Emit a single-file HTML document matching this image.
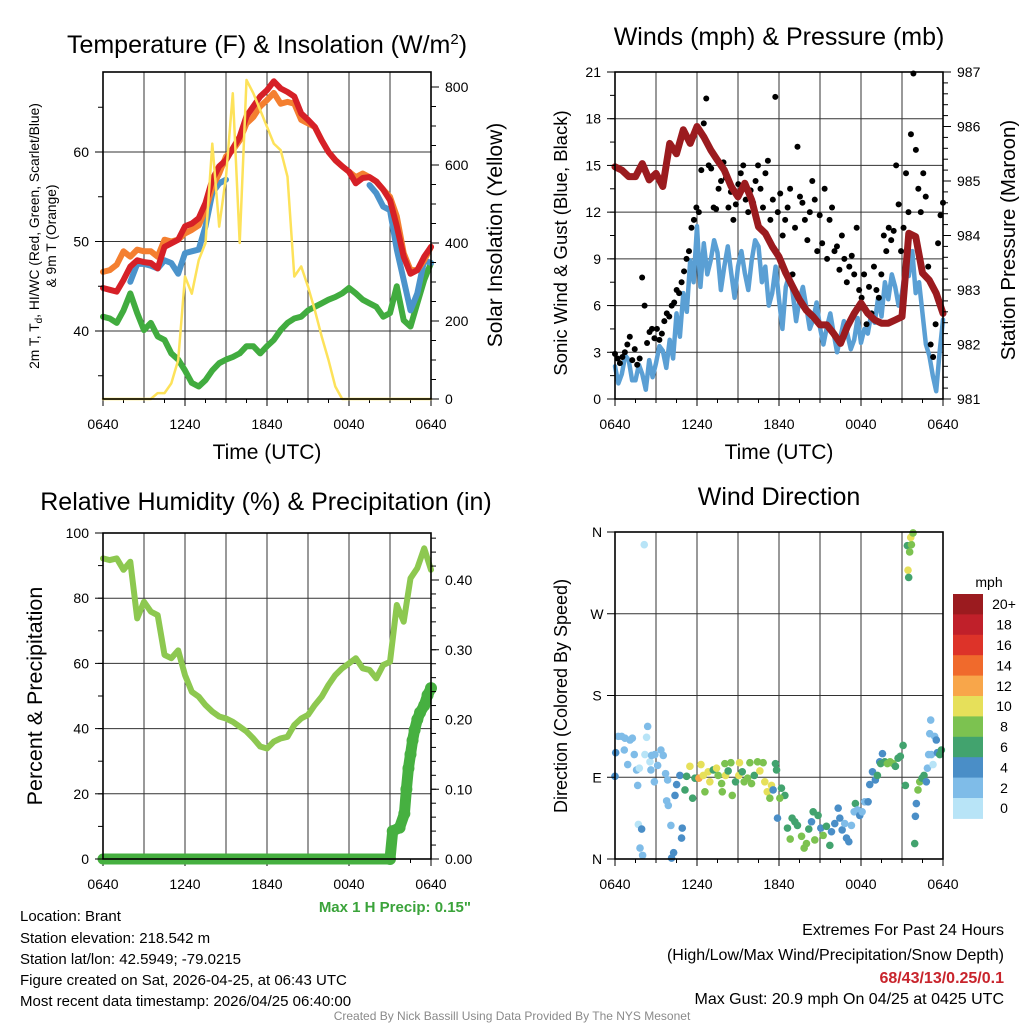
<!DOCTYPE html>
<html><head><meta charset="utf-8">
<style>
html,body{margin:0;padding:0;background:#fff;}
svg{display:block;font-family:"Liberation Sans",Arial,sans-serif;}
</style></head>
<body>
<svg id="chart" width="1024" height="1024" viewBox="0 0 1024 1024" xmlns="http://www.w3.org/2000/svg">
<rect x="0" y="0" width="1024" height="1024" fill="#fff"/>
<g id="p1"></g>
<g id="p2"></g>
<g id="p3"></g>
<g id="p4"></g>

<text x="267" y="53" font-size="25" text-anchor="middle">Temperature (F) &amp; Insolation (W/m<tspan dy="-9" font-size="15">2</tspan><tspan dy="9">)</tspan></text>
<text x="779" y="45" font-size="25" text-anchor="middle">Winds (mph) &amp; Pressure (mb)</text>
<text x="266" y="510" font-size="25" text-anchor="middle">Relative Humidity (%) &amp; Precipitation (in)</text>
<text x="779" y="505" font-size="25" text-anchor="middle">Wind Direction</text>

<text x="267" y="459" font-size="21" text-anchor="middle">Time (UTC)</text>
<text x="779" y="459" font-size="21" text-anchor="middle">Time (UTC)</text>

<text transform="translate(39,236) rotate(-90)" font-size="13.8" text-anchor="middle">2m T, T<tspan dy="3" font-size="10">d</tspan><tspan dy="-3">, HI/WC (Red, Green, Scarlet/Blue)</tspan></text>
<text transform="translate(56,236) rotate(-90)" font-size="13.8" text-anchor="middle">&amp; 9m T (Orange)</text>
<text transform="translate(502,235) rotate(-90)" font-size="21" text-anchor="middle">Solar Insolation (Yellow)</text>
<text transform="translate(567,243) rotate(-90)" font-size="18.5" text-anchor="middle">Sonic Wind &amp; Gust (Blue, Black)</text>
<text transform="translate(1015,240) rotate(-90)" font-size="20.5" text-anchor="middle">Station Pressure (Maroon)</text>
<text transform="translate(42,696) rotate(-90)" font-size="21.5" text-anchor="middle">Percent &amp; Precipitation</text>
<text transform="translate(567,696) rotate(-90)" font-size="18" text-anchor="middle">Direction (Colored By Speed)</text>

<g id="cbar"></g>
<text x="989" y="587" font-size="14" text-anchor="middle">mph</text>

<text x="471" y="912" font-size="15" font-weight="bold" fill="#3aa33a" text-anchor="end">Max 1 H Precip: 0.15"</text>
<g font-size="15">
<text x="20" y="921">Location: Brant</text>
<text x="20" y="943">Station elevation: 218.542 m</text>
<text x="20" y="964">Station lat/lon: 42.5949; -79.0215</text>
<text x="20" y="985">Figure created on Sat, 2026-04-25, at 06:43 UTC</text>
<text x="20" y="1006">Most recent data timestamp: 2026/04/25 06:40:00</text>
</g>
<g font-size="16" text-anchor="end">
<text x="1004" y="935">Extremes For Past 24 Hours</text>
<text x="1004" y="960">(High/Low/Max Wind/Precipitation/Snow Depth)</text>
<text x="1004" y="983" font-weight="bold" fill="#c8242c">68/43/13/0.25/0.1</text>
<text x="1004" y="1004">Max Gust: 20.9 mph On 04/25 at 0425 UTC</text>
</g>
<text x="512" y="1020" font-size="12" fill="#8a8a8a" text-anchor="middle">Created By Nick Bassill Using Data Provided By The NYS Mesonet</text>
</svg>
<script>
// ---------- DATA ----------
const timeTicks = ["0640","1240","1840","0040","0640"];
// Panel 1 (half-hourly, 49 points over 24 h)
const temp2m = [44.8,44.6,44.4,45.7,47.2,47.9,47.7,47.6,47.0,49.4,49.8,50.2,51.7,52.0,52.6,54.3,56.9,58.4,59.1,60.4,61.7,64.0,65.1,66.2,66.9,67.9,67.1,66.7,66.2,64.3,63.6,62.8,61.3,60.0,59.1,58.4,57.8,56.5,57.1,57.2,56.7,55.8,54.6,51.7,48.3,46.4,46.8,48.3,49.4];
const temp9m = [46.6,46.8,47.4,48.9,48.3,49.1,48.9,48.9,48.3,50.2,50.0,50.2,50.9,51.3,51.8,53.5,56.1,57.6,59.5,60.2,61.3,63.2,63.9,65.1,65.8,66.6,65.4,65.6,65.4,63.6,63.2,62.8,61.3,60.0,59.1,58.4,57.8,57.2,57.6,57.2,56.7,55.8,55.0,52.8,48.7,46.8,46.8,47.9,49.4];
const heatWind = [null,null,null,null,45.5,47.5,47.5,47.3,47.0,47.9,47.6,46.4,48.7,48.9,49.1,51.7,55.4,56.5,56.9,null,null,null,null,null,null,null,null,null,null,null,null,null,null,null,null,null,null,null,null,56.3,55.4,53.9,53.5,49.1,45.7,42.3,44.2,47.9,47.6];
const dewpoint = [41.6,41.4,40.9,42.3,44.2,42.0,40.1,40.9,39.4,39.0,37.5,36.8,35.6,34.2,33.8,34.5,35.6,36.4,36.8,37.1,37.5,38.3,38.3,37.5,38.3,39.0,40.1,40.9,41.4,41.6,42.3,42.7,43.1,43.5,43.8,44.2,44.8,44.2,43.5,43.1,42.7,41.6,42.0,45.0,41.2,40.5,43.1,45.7,47.6];
const insolation = [0,0,0,0,0,0,0,0,15,15,40,100,314,270,356,400,655,442,570,784,400,818,784,741,698,655,638,570,314,340,288,228,160,100,32,0,0,0,0,0,0,0,0,0,0,0,0,0,0];
const tempTicks = [40,50,60];
const insolTicks = [0,200,400,600,800];
// Panel 2
const windSpeed = [2.1,1.0,1.6,2.8,2.5,1.2,1.2,2.2,1.6,0.6,2.5,1.4,2.3,3.4,3.1,2.0,3.8,2.6,5.5,4.0,6.8,5.6,8.9,7.5,11.1,7.2,10.0,8.0,8.9,10.2,9.4,7.0,8.5,9.8,8.1,6.5,8.5,9.5,8.1,7.0,8.9,10.2,9.8,7.5,8.5,6.0,6.8,8.5,6.4,4.5,7.2,8.0,6.8,5.0,6.4,7.2,5.9,4.5,5.1,6.2,4.6,3.5,4.6,5.5,4.2,3.0,4.0,5.0,4.2,3.2,3.8,5.2,3.6,4.5,4.2,5.5,4.9,6.5,5.3,7.5,6.4,8.0,7.2,6.0,6.8,8.5,7.9,9.5,6.8,7.5,5.5,3.5,2.8,1.5,0.5,3.0,5.1];
const windGust = [2.9,2.6,2.3,2.7,3.0,3.5,4.0,2.5,3.2,2.2,2.6,7.8,6.0,3.6,4.3,4.5,3.9,4.5,3.8,4.2,5.0,5.5,5.3,6.0,6.2,7.0,6.8,7.5,8.2,9.0,9.5,11.0,11.5,12.3,12.0,14.7,17.7,19.3,15.0,14.8,12.3,12.2,13.5,14.0,15.2,14.2,12.3,13.3,11.5,12.5,13.8,14.5,15.0,12.8,12.0,13.4,12.6,14.0,15.0,13.5,12.3,14.5,15.3,11.5,12.8,19.4,12.0,13.2,10.5,11.5,12.3,13.5,8.0,11.0,16.2,13.0,12.6,11.5,10.2,12.0,14.0,12.8,9.5,11.8,10.0,13.5,9.0,11.5,12.3,9.5,9.8,8.3,10.5,9.0,7.5,8.5,9.2,8.0,11.0,7.0,6.5,8.0,4.8,7.2,5.5,8.5,7.0,6.5,8.0,10.5,9.5,11.0,10.2,10.8,15.0,12.5,9.5,11.0,14.5,12.0,17.0,20.9,16.0,13.5,12.0,14.5,13.0,8.5,3.5,2.7,4.8,10.0,11.8,12.6];
const pressure = [985.26,985.2,985.08,985.08,985.32,985.02,985.14,984.9,985.69,985.5,985.94,985.69,986.0,985.81,985.57,985.38,985.2,984.9,984.71,984.96,984.65,984.16,984.04,983.8,983.61,983.31,983.06,982.82,982.63,982.51,982.36,982.36,982.2,982.02,982.33,982.57,982.76,982.57,982.45,982.39,982.39,982.45,982.51,984.04,983.98,983.31,983.18,982.94,982.57];
const windTicks = [0,3,6,9,12,15,18,21];
const presTicks = [981,982,983,984,985,986,987];
// Panel 3
const humidity = [92.2,91.7,92.2,88.7,91.2,73.8,78.9,75.9,74.8,62.6,61.6,64.0,56.4,51.3,49.8,47.2,45.2,43.7,43.1,42.1,40.6,39.1,37.0,34.5,33.9,36.0,37.0,37.5,41.1,43.1,44.2,47.2,49.8,53.4,56.4,58.5,60.0,61.6,58.5,58.0,55.4,59.5,60.5,77.9,72.8,86.1,89.2,95.3,88.7];
const precipHours = [0,21.0,21.2,21.7,22.05,22.2,22.35,22.5,22.65,22.8,23.0,23.2,23.5,23.75,24];
const precipVals = [0,0,0.04,0.045,0.065,0.10,0.13,0.15,0.17,0.185,0.20,0.21,0.22,0.235,0.245];
const rhTicks = [0,20,40,60,80,100];
const precipTicks = [0,0.1,0.2,0.3,0.4];
// Panel 4
const dirHours = [2.14,0.0,0.05,0.24,0.49,0.73,1.10,1.27,0.68,0.93,1.41,1.58,1.66,1.71,1.95,1.83,2.02,1.78,2.19,2.31,2.39,2.56,2.68,2.92,2.63,2.88,3.12,3.36,3.53,3.70,3.85,3.78,3.90,4.09,4.14,4.29,4.39,4.51,4.75,4.92,4.87,5.24,5.12,5.48,5.68,5.85,6.14,6.29,6.46,6.58,6.82,6.94,7.19,7.43,7.55,7.80,7.85,8.04,8.09,8.28,8.48,8.58,8.82,9.06,9.11,9.31,9.45,9.70,9.87,9.99,10.19,10.43,10.60,10.84,10.96,11.14,11.33,11.45,11.57,11.74,11.82,11.89,12.18,12.43,12.06,12.62,12.82,12.96,13.16,13.35,13.65,13.84,14.01,14.18,14.38,14.50,14.62,14.86,15.06,15.23,15.47,15.72,15.84,16.08,16.33,16.45,16.62,16.81,16.94,17.11,17.30,17.50,17.59,17.74,17.91,18.08,18.27,18.52,18.64,18.84,19.05,19.20,19.37,19.57,19.44,19.74,19.93,20.13,20.35,20.52,20.71,20.88,21.08,21.25,21.44,21.49,21.39,21.56,21.69,21.64,21.81,21.93,21.98,22.05,22.17,22.30,22.47,22.61,22.78,22.86,22.95,23.15,23.27,23.03,23.10,23.39,23.51,23.59,23.76,23.88];
const dirDeg = [346,91,117,135,135,133,131,133,120,104,115,98,81,38,33,12,4,100,115,134,146,107,114,115,98,85,103,120,114,94,87,64,59,37,1,7,70,82,92,34,23,91,76,102,67,89,89,104,92,74,96,85,98,100,92,83,74,105,92,97,106,70,85,92,106,96,85,89,106,83,92,107,97,106,85,74,67,81,76,105,98,45,78,70,67,34,22,45,41,37,25,12,17,33,41,52,21,48,34,26,36,15,30,39,56,45,32,39,23,19,37,52,61,54,48,52,63,63,82,96,87,92,107,116,105,107,105,107,105,102,111,113,125,81,318,310,345,338,346,354,359,17,47,61,76,85,89,92,85,100,115,115,104,138,153,135,131,117,115,120];
const dirSpeed = [0,4,4,2,2,2,2,2,2,2,2,2,2,0,4,2,2,0,0,0,2,0,2,2,2,2,2,2,2,2,2,2,2,2,4,4,4,4,4,4,4,6,6,10,6,6,12,10,10,8,10,10,6,10,8,8,8,8,10,6,8,8,6,10,10,6,8,8,8,8,6,8,10,8,10,10,8,10,4,6,6,4,6,6,8,6,8,6,6,6,8,8,8,6,4,6,8,6,4,8,6,6,4,4,4,4,4,2,4,4,2,2,6,2,4,2,2,4,4,4,4,6,4,4,6,6,8,8,8,6,6,6,6,6,10,6,6,8,8,10,8,6,4,4,8,8,6,6,4,2,2,2,0,2,2,2,4,4,6,6];
const dirTicks = ["N","E","S","W","N"];
const speedBins = ["0","2","4","6","8","10","12","14","16","18","20+"];
const speedColors = ["#b8e4f7","#7fbce8","#4a8ec7","#42a36e","#7cc250","#e6e05a","#f8a64a","#f06a2c","#dd3329","#c0202a","#9b1b1f"];

// ---------- HELPERS ----------
const NS = "http://www.w3.org/2000/svg";
function mk(parent, tag, attrs){const e=document.createElementNS(NS,tag);for(const k in attrs)e.setAttribute(k,attrs[k]);parent.appendChild(e);return e;}
function lin(d0,d1,r0,r1){return v=>r0+(v-d0)/(d1-d0)*(r1-r0);}
function idxHour(i,n){return i*24/(n-1);}

function frame(g,L,R,T,B){
  const x=lin(0,24,L,R);
  for(let h=3;h<24;h+=3){
    const gl=mk(g,"line",{x1:x(h),x2:x(h),y1:T,y2:B,stroke:"#333","stroke-width":1});
    
    
  }
  for(let h=0;h<=24;h+=1.5){
    const len = (h%6===0)?7:4;
    const tk=mk(g,"line",{x1:x(h),x2:x(h),y1:B,y2:B+len,stroke:"#000","stroke-width":1});
    
    
  }
  timeTicks.forEach((lab,i)=>{
    const t=mk(g,"text",{x:x(i*6),y:B+30,"font-size":14,"text-anchor":"middle"});
    t.textContent=lab;
    
    
  });
  return x;
}
function hgrid(g,L,R,y){
  const l=mk(g,"line",{x1:L,x2:R,y1:y,y2:y,stroke:"#333","stroke-width":1});
  
  
}
function border(g,L,R,T,B){
  const r=mk(g,"rect",{x:L,y:T,width:R-L,height:B-T,fill:"none",stroke:"#000","stroke-width":1.6});
  
  
}
function yTicks(g,side,X,vals,scale,fmt,minorStep,minorRange){
  const dir=side==="left"?-1:1;
  if(minorStep){
    for(let v=minorRange[0];v<=minorRange[1]+1e-9;v+=minorStep){
      const m=mk(g,"line",{x1:X,x2:X+dir*5,y1:scale(v),y2:scale(v),stroke:"#000","stroke-width":1});
      
      
    }
  }
  vals.forEach(v=>{
    const y=scale(v);
    const tk=mk(g,"line",{x1:X,x2:X+dir*8,y1:y,y2:y,stroke:"#000","stroke-width":1});
    
    
    const t=mk(g,"text",{x:X+dir*14,y:y+5,"font-size":14,"text-anchor":side==="left"?"end":"start"});
    t.textContent=fmt(v);
    
    
  });
}
function pathFrom(vals,xf,yf,hoursArr){
  let d="",pen=false;
  vals.forEach((v,i)=>{
    if(v===null){pen=false;return;}
    const h=hoursArr?hoursArr[i]:idxHour(i,vals.length);
    d+=(pen?"L":"M")+xf(h).toFixed(1)+","+yf(v).toFixed(1);
    pen=true;
  });
  return d;
}
function line(g,d,color,w,name){
  const p=mk(g,"path",{d:d,fill:"none",stroke:color,"stroke-width":w,"stroke-linejoin":"round","stroke-linecap":"round"});
  
  
  return p;
}

// ---------- PANEL 1 ----------
(function(){
  const g=document.getElementById("p1");
  const L=103,R=431,T=72,B=399;
  const y=lin(40,60,331,152), yi=lin(0,800,399,87);
  const x=frame(g,L,R,T,B);
  tempTicks.forEach(v=>hgrid(g,L,R,y(v)));
  line(g,pathFrom(dewpoint,x,y),"#41ac3f",6,"dewpoint-line");
  line(g,pathFrom(heatWind,x,y),"#4b93cb",6,"heat-index-windchill-line");
  line(g,pathFrom(temp9m,x,y),"#f47f30",6,"temp-9m-line");
  line(g,pathFrom(temp2m,x,y),"#d62027",6,"temp-2m-line");
  line(g,pathFrom(insolation,x,yi),"#fde25a",2.5,"insolation-line");
  border(g,L,R,T,B);
  yTicks(g,"left",L,tempTicks,y,v=>v,5,[35,65]);
  yTicks(g,"right",R,insolTicks,yi,v=>v,50,[0,800]);
})();

// ---------- PANEL 2 ----------
(function(){
  const g=document.getElementById("p2");
  const L=615,R=943,T=72,B=399;
  const y=lin(0,21,399,72), yp=lin(981,987,399,72);
  const x=frame(g,L,R,T,B);
  windTicks.forEach(v=>{if(v>0&&v<21)hgrid(g,L,R,y(v));});
  line(g,pathFrom(windSpeed,x,y),"#5a9fd4",4.5,"wind-speed-line");
  windGust.forEach((v,i)=>{
    const c=mk(g,"circle",{cx:x(idxHour(i,windGust.length)),cy:y(v),r:3,fill:"#000"});
    
    
  });
  line(g,pathFrom(pressure,x,yp),"#9b1b1f",7,"pressure-line");
  border(g,L,R,T,B);
  yTicks(g,"left",L,windTicks,y,v=>v,1.5,[0,21]);
  yTicks(g,"right",R,presTicks,yp,v=>v,0.2,[981,987]);
})();

// ---------- PANEL 3 ----------
(function(){
  const g=document.getElementById("p3");
  const L=103,R=431,T=533,B=859;
  const y=lin(0,100,859,533), yr=lin(0,0.4,859,580);
  const x=frame(g,L,R,T,B);
  rhTicks.forEach(v=>{if(v>0&&v<100)hgrid(g,L,R,y(v));});
  line(g,pathFrom(humidity,x,y),"#8dc850",6,"humidity-line");
  line(g,pathFrom(precipVals,x,yr,precipHours),"#46b040",11,"precip-line");
  precipVals.forEach((v,i)=>{
    if(i===0)return;
    const c=mk(g,"circle",{cx:x(precipHours[i]),cy:yr(v),r:6,fill:"#46b040"});
    
    
  });
  border(g,L,R,T,B);
  yTicks(g,"left",L,rhTicks,y,v=>v,10,[0,100]);
  yTicks(g,"right",R,precipTicks,yr,v=>v.toFixed(2),0.02,[0,0.46]);
})();

// ---------- PANEL 4 ----------
(function(){
  const g=document.getElementById("p4");
  const L=615,R=943,T=532,B=859;
  const y=lin(0,360,859,532);
  const x=frame(g,L,R,T,B);
  [90,180,270].forEach(v=>hgrid(g,L,R,y(v)));
  dirDeg.forEach((v,i)=>{
    const bin=Math.min(10,Math.round(dirSpeed[i]/2));
    const c=mk(g,"circle",{cx:x(dirHours[i]),cy:y(v),r:3.8,fill:speedColors[bin]});
    
    
  });
  border(g,L,R,T,B);
  dirTicks.forEach((lab,i)=>{
    const yy=y(i*90);
    const tk=mk(g,"line",{x1:L,x2:L-8,y1:yy,y2:yy,stroke:"#000","stroke-width":1});
    
    
    const t=mk(g,"text",{x:L-18,y:yy+5,"font-size":14,"text-anchor":"middle"});
    t.textContent=lab;
    
    
  });
  const cb=document.getElementById("cbar");
  const top=594,bh=20.4;
  speedBins.forEach((lab,i)=>{
    const k=speedBins.length-1-i;
    const r=mk(cb,"rect",{x:953,y:top+i*bh,width:30,height:bh+0.5,fill:speedColors[k]});
    
    
    const t=mk(cb,"text",{x:1004,y:top+i*bh+bh/2+5,"font-size":14,"text-anchor":"middle"});
    t.textContent=speedBins[k];
    
    
  });
})();
</script>
</body></html>
